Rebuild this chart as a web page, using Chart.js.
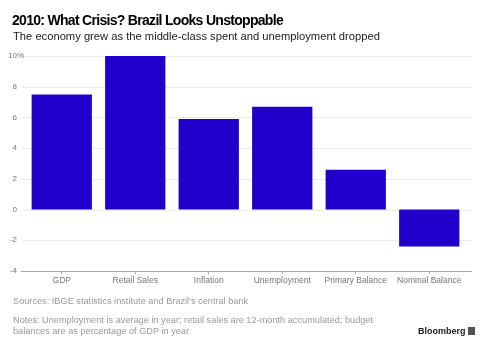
<!DOCTYPE html>
<html><head><meta charset="utf-8">
<script src="https://cdn.jsdelivr.net/npm/chart.js@4/dist/chart.umd.min.js"></script>
<style>
html,body{margin:0;padding:0;background:#fff;width:488px;height:348px;overflow:hidden;font-family:"Liberation Sans",Arial,sans-serif;}
#wrap{position:absolute;left:0;top:0;width:488px;height:348px;}
.t{position:absolute;white-space:nowrap;}
#title{left:12px;top:12px;font-size:14px;font-weight:bold;letter-spacing:-0.7px;color:#000;}
#sub{left:13px;top:30px;font-size:11.2px;color:#222;}
#src{left:13px;top:296px;font-size:9.2px;color:#9a9a9a;}
#notes{left:13px;top:315px;font-size:9.2px;color:#9a9a9a;line-height:10.5px;}
#logo{left:418px;top:326px;font-size:9px;font-weight:bold;color:#222;}
#logo span{display:inline-block;width:7px;height:8px;background:#555;margin-left:2px;vertical-align:-1px;}
</style></head>
<body>
<div id="wrap"><canvas id="c" width="488" height="348"></canvas></div>
<div class="t" id="title">2010: What Crisis? Brazil Looks Unstoppable</div>
<div class="t" id="sub">The economy grew as the middle-class spent and unemployment dropped</div>
<div class="t" id="src">Sources: IBGE statistics institute and Brazil's central bank</div>
<div class="t" id="notes">Notes: Unemployment is average in year; retail sales are 12-month accumulated; budget<br>balances are as percentage of GDP in year</div>
<div class="t" id="logo">Bloomberg<span></span></div>
<script>
const categories = ["GDP","Retail Sales","Inflation","Unemployment","Primary Balance","Nominal Balance"];
const values = [7.5, 10.0, 5.9, 6.7, 2.6, -2.4];
const yTicks = [-4,-2,0,2,4,6,8,10];

const gridPlugin = {
  id: 'extGrid',
  beforeDatasetsDraw(chart) {
    const ctx = chart.ctx, y = chart.scales.y;
    ctx.save();
    yTicks.forEach(v => {
      const py = Math.round(y.getPixelForValue(v)) + 0.5;
      ctx.strokeStyle = v === y.min ? '#aaa' : '#ececec';
      ctx.lineWidth = 1;
      ctx.beginPath();
      ctx.moveTo(v === y.min ? 21 : 22, py);
      ctx.lineTo(472, py);
      ctx.stroke();
    });
    ctx.restore();
  },
  afterDraw(chart) {
    const ctx = chart.ctx, y = chart.scales.y;
    ctx.save();
    ctx.fillStyle = '#777';
    ctx.font = '8px "Liberation Sans", Arial';
    ctx.textBaseline = 'middle';
    ctx.textAlign = 'left';
    ctx.fillText('%', 17, y.getPixelForValue(y.max));
    ctx.restore();
  }
};

new Chart(document.getElementById('c'), {
  type: 'bar',
  data: { labels: categories, datasets: [{ data: values, backgroundColor: '#2200CC', borderWidth: 0,
    categoryPercentage: 1.0, barPercentage: 0.82 }] },
  options: {
    responsive: false, animation: false, devicePixelRatio: 1,
    layout: { padding: { top: 56, left: 8, right: 22, bottom: 57 } },
    plugins: { legend: { display: false }, tooltip: { enabled: false } },
    scales: {
      x: {
        afterFit: s => { s.height = 20; },
        grid: { display: true, offset: false, drawOnChartArea: false, drawTicks: true, tickLength: 3, color: '#aaa' },
        border: { display: false },
        ticks: { color: '#777', font: { size: 8.5, family: '"Liberation Sans", Arial' }, padding: 2, maxRotation: 0, autoSkip: false }
      },
      y: {
        min: -4, max: 10,
        afterFit: s => { s.width = 17; },
        afterBuildTicks: s => { s.ticks = yTicks.map(v => ({ value: v })); },
        grid: { display: false },
        border: { display: false },
        ticks: { color: '#777', font: { size: 8, family: '"Liberation Sans", Arial' }, padding: 0,
          callback: v => String(v) }
      }
    }
  },
  plugins: [gridPlugin]
});
</script>
</body></html>
